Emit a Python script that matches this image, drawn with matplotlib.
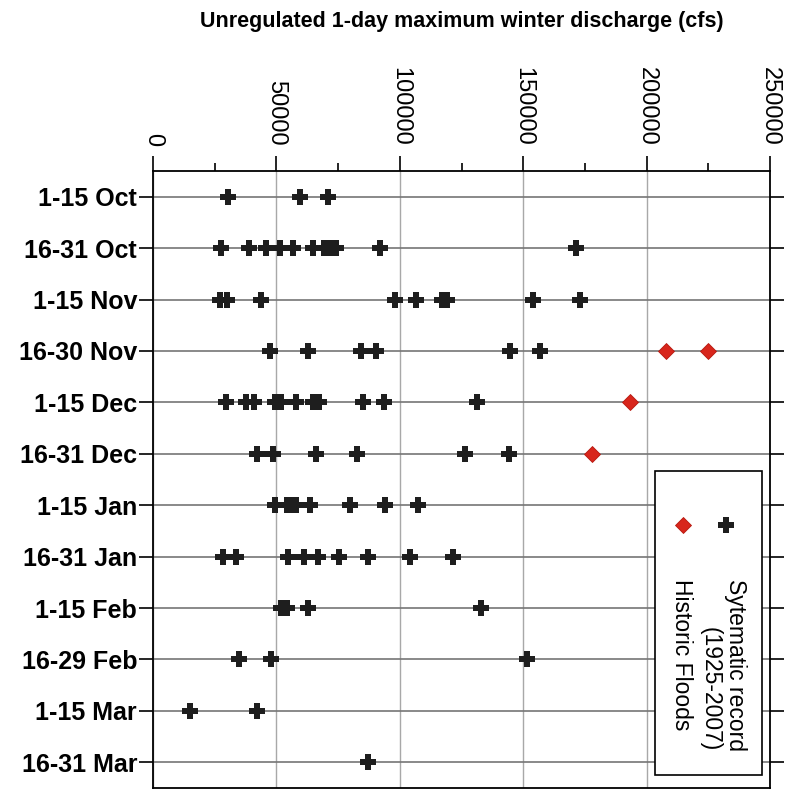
import matplotlib
matplotlib.use("Agg")
import matplotlib.pyplot as plt
from matplotlib import font_manager as fm
from matplotlib.patches import Rectangle
from matplotlib.ticker import MultipleLocator

# ---------------- data ----------------
categories = ["1-15 Oct", "16-31 Oct", "1-15 Nov", "16-30 Nov", "1-15 Dec", "16-31 Dec",
              "1-15 Jan", "16-31 Jan", "1-15 Feb", "16-29 Feb", "1-15 Mar", "16-31 Mar"]

oct_1 = [30400, 59400, 70900]
oct_2 = [27400, 38900, 45700, 51300, 56700, 64800, 69200, 71900, 74000, 91900, 171200]
nov_1 = [27200, 29900, 43800, 97900, 106700, 116900, 119200, 154000, 172900]
nov_2 = [47300, 62800, 84400, 90500, 144500, 156700]
dec_1 = [29700, 37700, 40800, 49300, 51700, 57800, 64800, 66500, 67300, 85100, 93500, 131300]
dec_2 = [42100, 48600, 65900, 82700, 126300, 144300]
jan_1 = [49300, 54400, 56600, 57800, 63700, 79900, 94100, 107400]
jan_2 = [28200, 33500, 54700, 61100, 66700, 75400, 87100, 104200, 121400]
feb_1 = [51700, 54200, 62800, 132800]
feb_2 = [34900, 48000, 151700]
mar_1 = [14900, 42300]
mar_2 = [87100]
systematic = [oct_1, oct_2, nov_1, nov_2, dec_1, dec_2, jan_1, jan_2, feb_1, feb_2, mar_1, mar_2]

historic_cats = ["16-30 Nov", "16-30 Nov", "1-15 Dec", "16-31 Dec"]
historic_vals = [207800, 224900, 193200, 177900]

x_ticks = [0, 50000, 100000, 150000, 200000, 250000]
title = "Unregulated 1-day maximum winter discharge (cfs)"
legend_labels = ["Sytematic record\n(1925-2007)", "Historic Floods"]

# ---------------- style ----------------
names = {f.name for f in fm.fontManager.ttflist}
base = "Liberation Sans" if "Liberation Sans" in names else "DejaVu Sans"
plt.rcParams["font.family"] = [base, "DejaVu Sans"]

W, H = 792, 799
fig = plt.figure(figsize=(W / 100, H / 100), dpi=100)
ax = fig.add_axes([153 / W, 1 - 788 / H, (770 - 153) / W, (788 - 171) / H])

plus_color = "#1e1e1e"
red = "#d8261c"
plus_ms = 11.5

for i, vals in enumerate(systematic):
    ax.plot(vals, [i] * len(vals), linestyle="none", marker="P", ms=plus_ms,
            color=plus_color, mew=0, zorder=4)

hy = [categories.index(c) for c in historic_cats]
ax.plot(historic_vals, hy, linestyle="none", marker="D", ms=8.5,
        color=red, mec="#b51810", mew=0.6, zorder=4)

ax.set_xlim(0, 250000)
ax.set_ylim(len(categories) - 0.5, -0.5)
ax.set_yticks(range(len(categories)))
ax.set_yticklabels(categories, fontsize=18, fontweight="bold")

ax.xaxis.tick_top()
ax.set_xticks(x_ticks)
ax.set_xticklabels([str(v) for v in x_ticks], rotation=-90, fontsize=17)
ax.xaxis.set_minor_locator(MultipleLocator(25000))
ax.tick_params(axis="x", which="major", direction="out", length=11, width=1.2, pad=7, colors="black")
ax.tick_params(axis="x", which="minor", direction="out", length=6, width=1.2)
ax.tick_params(axis="y", which="major", direction="out", length=10, width=1.2, pad=1.5,
               left=True, right=True, labelright=False)
for lbl in ax.get_xticklabels():
    lbl.set_verticalalignment("bottom")
    lbl.set_horizontalalignment("center")

ax.set_axisbelow(True)
ax.yaxis.grid(True, color="#767676", lw=1.2)
ax.xaxis.grid(True, which="major", color="#a8a8a8", lw=1.0)
for s in ax.spines.values():
    s.set_linewidth(1.3)
    s.set_color("black")

# title
narrow = "Liberation Sans Narrow" in names
if narrow:
    fig.text(461.5 / W, 1 - 22 / H, title, ha="center", va="center",
             fontsize=19, fontweight="bold", family=["Liberation Sans Narrow", base])
else:
    fig.text(461.5 / W, 1 - 22 / H, title, ha="center", va="center",
             fontsize=15.5, fontweight="bold")

# rotated legend (drawn manually)
def fx(px):
    return (px - 153) / (770 - 153)

def fy(py):
    return 1 - (py - 171) / (788 - 171)

ax.add_patch(Rectangle((fx(655), fy(775)), fx(762) - fx(655), fy(471) - fy(775),
                       transform=ax.transAxes, fc="white", ec="black", lw=1.2, zorder=5))
ax.plot([fx(726)], [fy(525)], transform=ax.transAxes, marker="P", ms=plus_ms, color=plus_color,
        mew=0, linestyle="none", zorder=6, clip_on=False)
ax.plot([fx(683)], [fy(525)], transform=ax.transAxes, marker="D", ms=8.5, color=red,
        mec="#b51810", mew=0.6, linestyle="none", zorder=6, clip_on=False)
ax.text(fx(723), fy(579), legend_labels[0], transform=ax.transAxes, rotation=-90,
        ha="center", va="top", fontsize=16.5, multialignment="right", zorder=6, linespacing=1.1)
ax.text(fx(681), fy(579), legend_labels[1], transform=ax.transAxes, rotation=-90,
        ha="center", va="top", fontsize=16.5, zorder=6)

fig.savefig("out.png", dpi=100)
